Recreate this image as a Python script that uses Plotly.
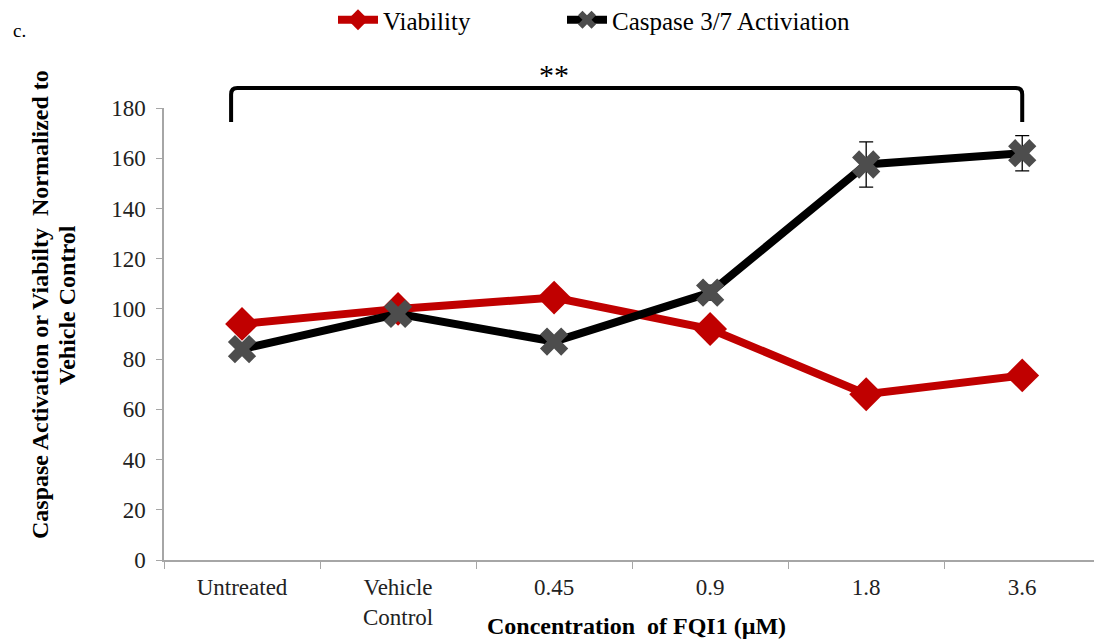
import plotly.graph_objects as go

# Treatment groups along the x axis
categories = ["Untreated", "Vehicle<br>Control", "0.45", "0.9", "1.8", "3.6"]

# Normalized responses (% of vehicle control)
viability = [94, 100, 104.5, 92, 66, 73.5]
caspase = [84, 98, 87, 106.5, 157.5, 162]
caspase_err = [2, 2, 2, 3, 9, 7]

y_ticks = [0, 20, 40, 60, 80, 100, 120, 140, 160, 180]

SERIF = "Liberation Serif, Times New Roman, serif"

# plot area in pixels: x 164..1094, y 108..560
def px_x(p):
    return (p - 164) / 930

def px_y(p):
    return (560 - p) / 452

fig = go.Figure()

fig.add_trace(go.Scatter(
    x=categories, y=viability, name="Viability",
    mode="lines+markers", legend="legend",
    line=dict(color="#C00000", width=8),
    marker=dict(symbol="diamond", size=26, color="#C00000"),
))

fig.add_trace(go.Scatter(
    x=categories, y=caspase, name="Caspase 3/7 Activiation",
    mode="lines+markers", legend="legend2",
    line=dict(color="#000000", width=8),
    marker=dict(symbol="x", size=25, color="#4D4D4D"),
    error_y=dict(type="data", array=caspase_err, visible=True,
                 color="#000000", thickness=1.3, width=7),
))

# Significance bracket spanning Untreated .. 3.6
fig.add_shape(
    type="path", xref="x", yref="paper",
    path="M -0.07,0.969 L -0.07,1.03 Q -0.07,1.044 -0.03,1.044 "
         "L 4.96,1.044 Q 5.0,1.044 5.0,1.03 L 5.0,0.969",
    line=dict(color="black", width=4),
)
fig.add_annotation(
    x=2.0, y=px_y(74), xref="x", yref="paper", text="**", showarrow=False,
    font=dict(family=SERIF, size=30, color="black"),
    xanchor="center", yanchor="middle",
)

# Panel label
fig.add_annotation(
    x=px_x(11), y=px_y(30), xref="paper", yref="paper",
    text="c.", showarrow=False, xanchor="left", yanchor="middle",
    font=dict(family=SERIF, size=19, color="black"),
)

# Y axis title, two lines
for text, cx in [("<b>Caspase Activation or Viabilty  Normalized to</b>", 40),
                 ("<b>Vehicle Control</b>", 67)]:
    fig.add_annotation(
        x=px_x(cx), y=px_y(305), xref="paper", yref="paper",
        text=text, textangle=-90, showarrow=False,
        xanchor="center", yanchor="middle",
        font=dict(family=SERIF, size=24, color="black"),
    )

# X axis title
fig.add_annotation(
    x=px_x(636), y=px_y(626), xref="paper", yref="paper",
    text="<b>Concentration  of FQI1 (µM)</b>", showarrow=False,
    xanchor="center", yanchor="middle",
    font=dict(family=SERIF, size=24, color="black"),
)

legend_style = dict(
    orientation="h", y=px_y(20), xanchor="left", yanchor="middle",
    font=dict(family=SERIF, size=25, color="black"),
    bgcolor="rgba(0,0,0,0)", itemwidth=40,
)

fig.update_layout(
    width=1094, height=643,
    margin=dict(l=164, r=0, t=108, b=83, autoexpand=False),
    plot_bgcolor="white", paper_bgcolor="white",
    font=dict(family=SERIF, size=23, color="#222222"),
    showlegend=True,
    legend=dict(x=px_x(333), **legend_style),
    legend2=dict(x=px_x(562), **legend_style),
    xaxis=dict(
        type="category", range=[-0.5, 5.46],
        showline=True, linecolor="#A6A6A6", linewidth=1.5,
        ticks="outside", tickson="boundaries", ticklen=7,
        tickcolor="#A6A6A6", showgrid=False, zeroline=False,
        ticklabelstandoff=6,
        tickfont=dict(family=SERIF, size=23, color="#222222"),
    ),
    yaxis=dict(
        range=[0, 180], tickvals=y_ticks,
        showline=True, linecolor="#A6A6A6", linewidth=1.5,
        ticks="outside", ticklen=6, tickcolor="#A6A6A6",
        showgrid=False, zeroline=False, ticklabelstandoff=6,
        tickfont=dict(family=SERIF, size=23, color="#222222"),
    ),
)

fig.write_html("out.html")
